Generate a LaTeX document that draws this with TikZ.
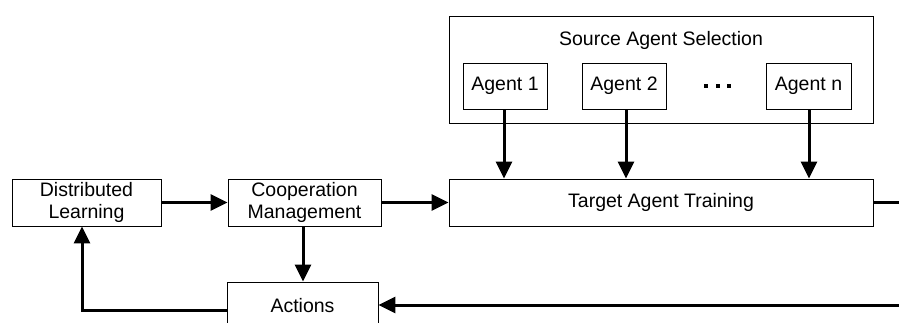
\documentclass[tikz,border=0pt]{standalone}
\usepackage{fontspec}
\setmainfont{Liberation Sans}
\usetikzlibrary{arrows.meta}
\begin{document}
\begin{tikzpicture}[x=1pt,y=-1pt,
  box/.style={draw=black,line width=0.9pt,inner sep=0pt,align=center,
    font=\fontsize{19.5}{22.5}\selectfont},
  lbl/.style={inner sep=0pt,font=\fontsize{19.5}{22.5}\selectfont},
  flow/.style={line width=3pt,-{Triangle[length=17pt,width=16pt]}},
  link/.style={line width=3pt}]
\useasboundingbox (0,0) rectangle (899,322);
\clip (0,0) rectangle (899,322);
\fill[white] (0,0) rectangle (899,322);

% source agents
\node[box,minimum width=424pt,minimum height=107pt] (sas) at (661,69.5) {};
\node[lbl] (sastitle) at (661,40) {Source Agent Selection};
\node[box,minimum width=84pt,minimum height=46pt] (a1) at (505,86) {Agent 1};
\node[box,minimum width=84pt,minimum height=46pt] (a2) at (624,86) {Agent 2};
\node[box,minimum width=85pt,minimum height=46pt] (an) at (808.5,86) {Agent n};
\foreach \x in {705.5,717.5,729} \fill (\x-2,84) rectangle (\x+2,88);

% main row
\node[box,minimum width=149pt,minimum height=47pt] (dl) at (86.5,202.5) {Distributed\\Learning};
\node[box,minimum width=153pt,minimum height=47pt] (cm) at (304.5,202.5) {Cooperation\\Management};
\node[box,minimum width=424pt,minimum height=47pt] (tat) at (661,202.5) {Target Agent Training};
\node[box,minimum width=151pt,minimum height=48pt] (act) at (302.5,306) {Actions};

\coordinate (rout) at (905,202.5);
\coordinate (rin) at (905,305);

% connectors
\draw[flow] (dl.east) -- (cm.west);
\draw[flow] (cm.east) -- (tat.west);
\draw[link] (tat.east) -- (rout);
\draw[flow] ([xshift=-1pt]a1.south) -- ([xshift=-1pt]a1.south |- tat.north);
\draw[flow] ([xshift=2pt]a2.south) -- ([xshift=2pt]a2.south |- tat.north);
\draw[flow] ([xshift=0.5pt]an.south) -- ([xshift=0.5pt]an.south |- tat.north);
\draw[flow] ([xshift=-1.5pt]cm.south) -- ([xshift=-1.5pt]cm.south |- act.north);
\draw[flow] (rin) -- (act.east |- rin);
\draw[flow] ([yshift=-4pt]act.west) -| ([xshift=-4.5pt]dl.south);
\end{tikzpicture}
\end{document}
